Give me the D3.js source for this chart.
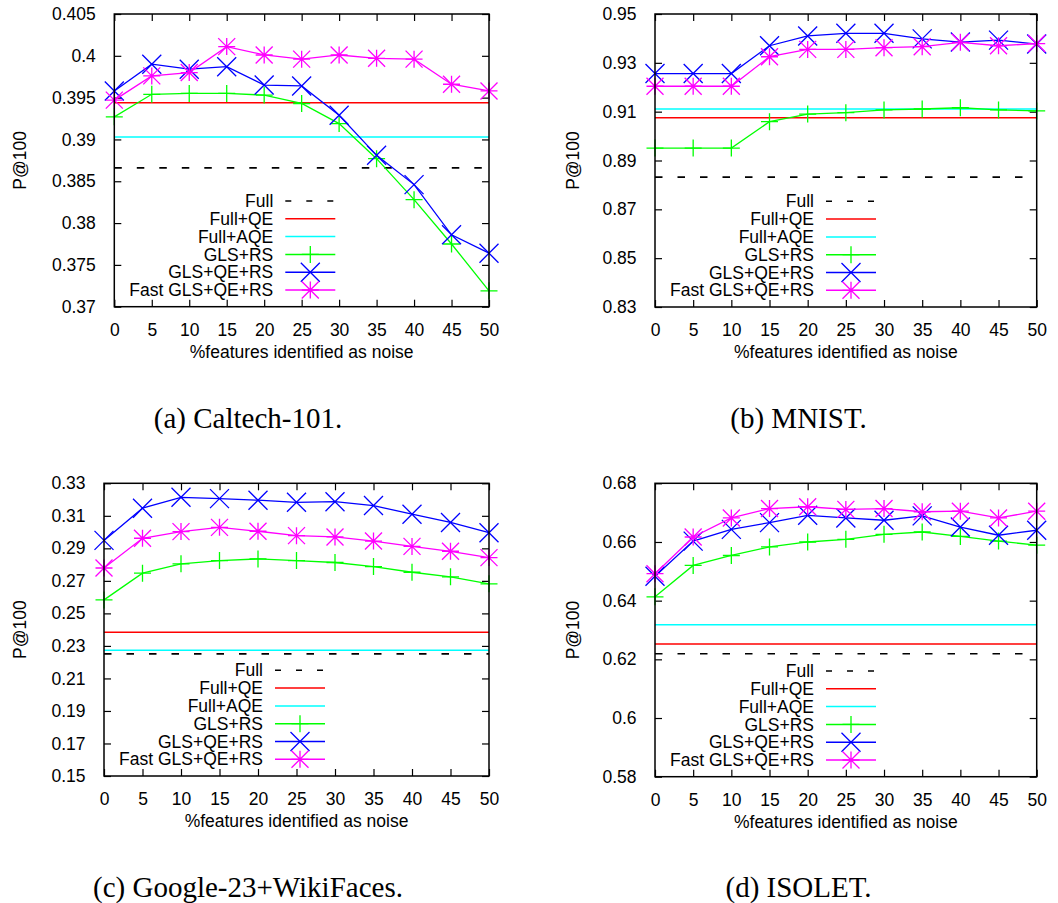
<!DOCTYPE html>
<html>
<head>
<meta charset="utf-8">
<script src="https://cdn.jsdelivr.net/npm/d3@7"></script>
<style>
  html, body { margin: 0; padding: 0; background: #fff; }
  svg { display: block; }
  .tick text, .lbl { font-family: "Liberation Sans", Arial, sans-serif; font-size: 17.5px; fill: #000; }
  .cap { font-family: "Liberation Serif", "Times New Roman", serif; font-size: 29px; fill: #000; }
</style>
</head>
<body>
<svg id="chart" width="1058" height="903"></svg>
<script>
// ---------- data ----------
const xValues = [0, 5, 10, 15, 20, 25, 30, 35, 40, 45, 50];
const xTicks = [0, 5, 10, 15, 20, 25, 30, 35, 40, 45, 50];
const seriesNames = ["Full", "Full+QE", "Full+AQE", "GLS+RS", "GLS+QE+RS", "Fast GLS+QE+RS"];
const seriesColors = ["#000000", "#ff0000", "#00ffff", "#00ff00", "#0000ff", "#ff00ff"];
const seriesMarkers = ["none", "none", "none", "plus", "cross", "star"];
const xLabel = "%features identified as noise";
const yLabel = "P@100";

// (a) Caltech-101
const captionA = "(a) Caltech-101.";
const yTicksA = [0.37, 0.375, 0.38, 0.385, 0.39, 0.395, 0.4, 0.405];
const yTickLabelsA = ["0.37", "0.375", "0.38", "0.385", "0.39", "0.395", "0.4", "0.405"];
const fullA = 0.3866;
const fullQEA = 0.3944;
const fullAQEA = 0.3903;
const glsRSA = [0.3927, 0.3954, 0.3955, 0.3955, 0.3953, 0.3943, 0.3919, 0.3877, 0.3828, 0.3775, 0.3719];
const glsQERSA = [0.3958, 0.3990, 0.3984, 0.3987, 0.3965, 0.3964, 0.3929, 0.3881, 0.3846, 0.3786, 0.3764];
const fastA = [0.3947, 0.3976, 0.3980, 0.4011, 0.4001, 0.3996, 0.4001, 0.3997, 0.3996, 0.3966, 0.3958];

// (b) MNIST
const captionB = "(b) MNIST.";
const yTicksB = [0.83, 0.85, 0.87, 0.89, 0.91, 0.93, 0.95];
const yTickLabelsB = ["0.83", "0.85", "0.87", "0.89", "0.91", "0.93", "0.95"];
const fullB = 0.8832;
const fullQEB = 0.9075;
const fullAQEB = 0.9111;
const glsRSB = [0.8951, 0.8951, 0.8951, 0.9059, 0.9090, 0.9096, 0.9107, 0.9111, 0.9116, 0.9107, 0.9103];
const glsQERSB = [0.9256, 0.9256, 0.9256, 0.9370, 0.9410, 0.9421, 0.9421, 0.9398, 0.9385, 0.9393, 0.9377];
const fastB = [0.9204, 0.9204, 0.9204, 0.9325, 0.9355, 0.9355, 0.9362, 0.9366, 0.9384, 0.9370, 0.9379];

// (c) Google-23+WikiFaces
const captionC = "(c) Google-23+WikiFaces.";
const yTicksC = [0.15, 0.17, 0.19, 0.21, 0.23, 0.25, 0.27, 0.29, 0.31, 0.33];
const yTickLabelsC = ["0.15", "0.17", "0.19", "0.21", "0.23", "0.25", "0.27", "0.29", "0.31", "0.33"];
const fullC = 0.2251;
const fullQEC = 0.2384;
const fullAQEC = 0.2273;
const glsRSC = [0.2583, 0.2747, 0.2805, 0.2825, 0.2835, 0.2825, 0.2813, 0.2788, 0.2753, 0.2725, 0.2682];
const glsQERSC = [0.2949, 0.3147, 0.3214, 0.3206, 0.3196, 0.3183, 0.3187, 0.3163, 0.3110, 0.3059, 0.2996];
const fastC = [0.2779, 0.2962, 0.3003, 0.3029, 0.3005, 0.2978, 0.2970, 0.2945, 0.2912, 0.2882, 0.2843];

// (d) ISOLET
const captionD = "(d) ISOLET.";
const yTicksD = [0.58, 0.6, 0.62, 0.64, 0.66, 0.68];
const yTickLabelsD = ["0.58", "0.6", "0.62", "0.64", "0.66", "0.68"];
const fullD = 0.6219;
const fullQED = 0.6252;
const fullAQED = 0.6318;
const glsRSD = [0.6413, 0.6520, 0.6554, 0.6583, 0.6600, 0.6609, 0.6626, 0.6634, 0.6619, 0.6603, 0.6589];
const glsQERSD = [0.6483, 0.6603, 0.6643, 0.6666, 0.6691, 0.6682, 0.6674, 0.6689, 0.6651, 0.6623, 0.6640];
const fastD = [0.6492, 0.6617, 0.6682, 0.6714, 0.6720, 0.6711, 0.6714, 0.6703, 0.6705, 0.6682, 0.6705];

// ---------- layout ----------
const panels = [
  { caption: captionA, yTicks: yTicksA, yTickLabels: yTickLabelsA, flat: [fullA, fullQEA, fullAQEA], curves: [glsRSA, glsQERSA, fastA],
    left: 114.3, right: 489, top: 14, bottom: 306.7, ylabX: 20, capX: 248, capY: 428.3 },
  { caption: captionB, yTicks: yTicksB, yTickLabels: yTickLabelsB, flat: [fullB, fullQEB, fullAQEB], curves: [glsRSB, glsQERSB, fastB],
    left: 655, right: 1036.7, top: 14, bottom: 307, ylabX: 572.7, capX: 798.5, capY: 428.3 },
  { caption: captionC, yTicks: yTicksC, yTickLabels: yTickLabelsC, flat: [fullC, fullQEC, fullAQEC], curves: [glsRSC, glsQERSC, fastC],
    left: 104, right: 489, top: 483.3, bottom: 776, ylabX: 20, capX: 248, capY: 897.3 },
  { caption: captionD, yTicks: yTicksD, yTickLabels: yTickLabelsD, flat: [fullD, fullQED, fullAQED], curves: [glsRSD, glsQERSD, fastD],
    left: 655, right: 1036.7, top: 483.3, bottom: 776.7, ylabX: 572.7, capX: 798.5, capY: 897.3 }
];

const svg = d3.select("#chart");
const TICK = 7;

function drawMarker(g, type, cx, cy, color) {
  const p = d3.path();
  if (type === "plus" || type === "star") {
    const s = 8.5;
    p.moveTo(cx - s, cy); p.lineTo(cx + s, cy);
    p.moveTo(cx, cy - s); p.lineTo(cx, cy + s);
  }
  if (type === "cross" || type === "star") {
    const s = type === "cross" ? 9.5 : 8.5;
    p.moveTo(cx - s, cy - s); p.lineTo(cx + s, cy + s);
    p.moveTo(cx - s, cy + s); p.lineTo(cx + s, cy - s);
  }
  g.append("path").attr("d", p.toString()).attr("fill", "none")
    .attr("stroke", color).attr("stroke-width", 1.3);
}

panels.forEach(P => {
  const g = svg.append("g");
  const x = d3.scaleLinear().domain([0, 50]).range([P.left, P.right]);
  const y = d3.scaleLinear().domain([P.yTicks[0], P.yTicks[P.yTicks.length - 1]]).range([P.bottom, P.top]);

  // axes with inward ticks
  const fmtY = (d, i) => P.yTickLabels[i];
  g.append("g").attr("transform", `translate(${P.left},0)`)
    .call(d3.axisLeft(y).tickValues(P.yTicks).tickFormat(fmtY).tickSize(-TICK).tickPadding(11.5 + TICK))
    .call(a => a.select(".domain").remove());
  g.append("g").attr("transform", `translate(${P.right},0)`)
    .call(d3.axisRight(y).tickValues(P.yTicks).tickFormat("").tickSize(-TICK))
    .call(a => a.select(".domain").remove());
  g.append("g").attr("transform", `translate(0,${P.bottom})`)
    .call(d3.axisBottom(x).tickValues(xTicks).tickFormat(d3.format("d")).tickSize(-TICK).tickPadding(10 + TICK))
    .call(a => a.select(".domain").remove());
  g.append("g").attr("transform", `translate(0,${P.top})`)
    .call(d3.axisTop(x).tickValues(xTicks).tickFormat("").tickSize(-TICK))
    .call(a => a.select(".domain").remove());
  g.selectAll(".tick line").attr("stroke", "#000").attr("stroke-width", 1.2);
  g.selectAll(".tick text").attr("fill", "#000").style("font-family", '"Liberation Sans", Arial, sans-serif').style("font-size", "17.5px");

  // horizontal reference lines
  P.flat.forEach((v, i) => {
    g.append("line").attr("x1", P.left).attr("x2", P.right).attr("y1", y(v)).attr("y2", y(v))
      .attr("stroke", seriesColors[i]).attr("stroke-width", i === 0 ? 1.6 : 1.5)
      .attr("stroke-dasharray", i === 0 ? "7.5,15" : null);
  });

  // curves
  const line = d3.line().x((d, i) => x(xValues[i])).y(d => y(d));
  P.curves.forEach((vals, k) => {
    const si = k + 3;
    g.append("path").datum(vals).attr("d", line).attr("fill", "none")
      .attr("stroke", seriesColors[si]).attr("stroke-width", 1.3);
    vals.forEach((v, i) => drawMarker(g, seriesMarkers[si], x(xValues[i]), y(v), seriesColors[si]));
  });

  // legend
  const rowH = 17.8;
  seriesNames.forEach((name, i) => {
    const ry = P.bottom - 16.7 - (seriesNames.length - 1 - i) * rowH;
    g.append("text").attr("class", "lbl").attr("x", P.left + 159).attr("y", ry).attr("dy", "0.35em")
      .attr("text-anchor", "end").text(name);
    g.append("line").attr("x1", P.left + 171).attr("x2", P.left + 221).attr("y1", ry).attr("y2", ry)
      .attr("stroke", seriesColors[i]).attr("stroke-width", 1.5)
      .attr("stroke-dasharray", i === 0 ? "6,15" : null);
    if (seriesMarkers[i] !== "none") drawMarker(g, seriesMarkers[i], P.left + 196, ry, seriesColors[i]);
  });

  // frame
  g.append("rect").attr("x", P.left).attr("y", P.top).attr("width", P.right - P.left).attr("height", P.bottom - P.top)
    .attr("fill", "none").attr("stroke", "#000").attr("stroke-width", 1.5);

  // axis labels
  g.append("text").attr("class", "lbl").attr("x", (P.left + P.right) / 2).attr("y", P.bottom + 51)
    .attr("text-anchor", "middle").text(xLabel);
  g.append("text").attr("class", "lbl")
    .attr("transform", `translate(${P.ylabX},${(P.top + P.bottom) / 2}) rotate(-90)`)
    .attr("dy", "0.35em").attr("text-anchor", "middle").text(yLabel);

  // caption
  g.append("text").attr("class", "cap").attr("x", P.capX).attr("y", P.capY)
    .attr("text-anchor", "middle").text(P.caption);
});
</script>
</body>
</html>
